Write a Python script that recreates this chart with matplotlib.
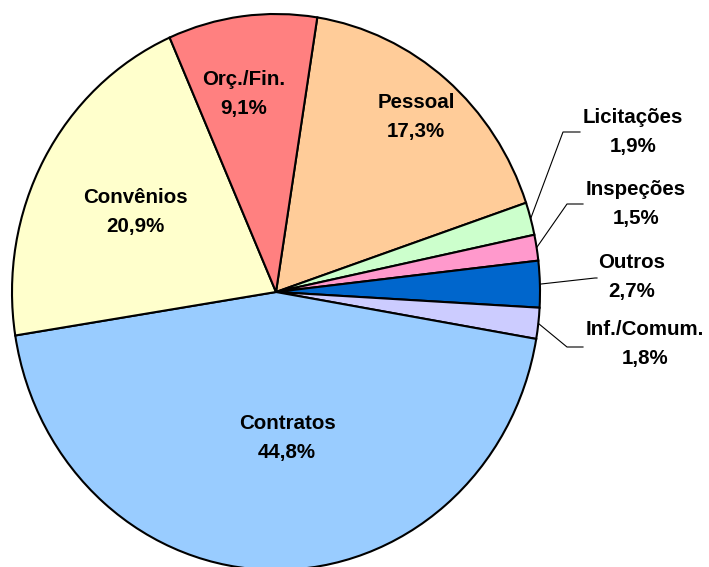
import numpy as np
import matplotlib
matplotlib.use('Agg')
import matplotlib.pyplot as plt

# slice data, in drawing order (clockwise from the top)
categories = ['Pessoal', 'Licitações', 'Inspeções', 'Outros', 'Inf./Comum.',
              'Contratos', 'Convênios', 'Orç./Fin.']
values = [17.3, 1.9, 1.5, 2.7, 1.8, 44.8, 20.9, 9.1]
colors = ['#FFCC99', '#CCFFCC', '#FF99CC', '#0066CC', '#CCCCFF',
          '#99CCFF', '#FFFFCC', '#FF8080']

W, H = 709, 567
CX, CY, RX, RY = 276, 292, 264, 278   # pie centre / radii in pixels

def px(x, y):
    # pixel position -> data coords (pie radius = 1)
    return (x - CX) / RX, (CY - y) / RY

fig = plt.figure(figsize=(W / 100, H / 100), dpi=100)
ax = fig.add_axes([0, 0, 1, 1])

wedges, _ = ax.pie(values, colors=colors, startangle=81, counterclock=False,
                   wedgeprops=dict(edgecolor='black', linewidth=1.5))
ax.set_aspect('auto')
ax.set_xlim(px(0, 0)[0], px(W, 0)[0])
ax.set_ylim(px(0, H)[1], px(0, 0)[1])
ax.axis('off')

font = dict(family=['Liberation Sans', 'DejaVu Sans'], fontweight='bold',
            fontsize=14.8, ha='center', va='center', linespacing=1.65)

def lab(i):
    return '%s\n%s%%' % (categories[i], ('%.1f' % values[i]).replace('.', ','))

# labels placed inside the big slices
inside = {'Contratos': (287, 438), 'Convênios': (135, 212),
          'Orç./Fin.': (244, 94), 'Pessoal': (416, 117)}
for name, pos in inside.items():
    ax.text(*px(*pos), lab(categories.index(name)), **font)

# small slices: label outside with a leader line (elbow, end, label)
outside = {'Licitações': ((563, 132), (580, 132), (633, 132)),
           'Inspeções': ((567, 204), (583, 204), (636, 204)),
           'Outros': ((595, 278), (597, 278), (632, 277)),
           'Inf./Comum.': ((567, 347), (583, 347), (645, 344))}
for name, (elbow, end, pos) in outside.items():
    i = categories.index(name)
    w = wedges[i]
    mid = np.deg2rad((w.theta1 + w.theta2) / 2)
    xs = [np.cos(mid), px(*elbow)[0], px(*end)[0]]
    ys = [np.sin(mid), px(*elbow)[1], px(*end)[1]]
    ax.plot(xs, ys, color='black', linewidth=0.8)
    ax.text(*px(*pos), lab(i), **font)

fig.savefig('out.png', dpi=100)
